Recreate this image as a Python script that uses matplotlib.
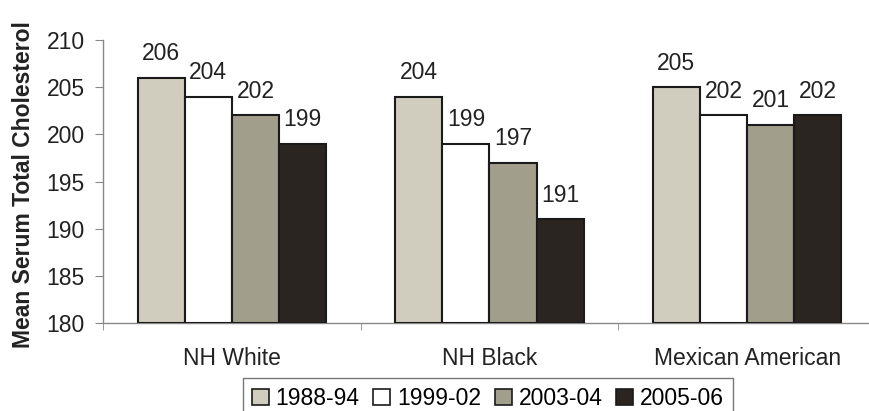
import numpy as np
import matplotlib
matplotlib.use('Agg')
import matplotlib.pyplot as plt
from matplotlib.ticker import FixedLocator

plt.rcParams['font.family'] = ['Liberation Sans', 'DejaVu Sans']

# datos del gráfico
grupos = ['NH White', 'NH Black', 'Mexican American']
periodos = ['1988-94', '1999-02', '2003-04', '2005-06']
valores = {
    '1988-94': [206, 204, 205],
    '1999-02': [204, 199, 202],
    '2003-04': [202, 197, 201],
    '2005-06': [199, 191, 202],
}
colores = ['#d0cdbf', '#ffffff', '#a19e8c', '#2b2521']

fs = 16.5

fig = plt.figure(figsize=(8.7, 4.11), dpi=100)
# el eje se extiende un poco más allá del borde derecho, como en el original
ax = fig.add_axes([103 / 870, 1 - 323 / 411, 773 / 870, 283 / 411])

x = np.arange(len(grupos))
ancho = 0.183
for i, periodo in enumerate(periodos):
    pos = x + (i - 1.5) * ancho
    ax.bar(pos, [v - 180 for v in valores[periodo]], bottom=180,
           width=ancho, color=colores[i], edgecolor='#1a1a1a',
           linewidth=1.5, label=periodo, zorder=3)
    # etiquetas con el valor sobre cada barra
    for xb, v in zip(pos, valores[periodo]):
        ax.annotate(str(v), (xb, v), xytext=(0, 9), textcoords='offset points',
                    ha='center', va='bottom', fontsize=fs, color='#222222')

ax.set_xlim(-0.5, 2.5)
ax.set_ylim(180, 210)
ax.set_yticks(range(180, 211, 5))
ax.set_xticks(x)
ax.set_xticklabels(grupos)
ax.xaxis.set_minor_locator(FixedLocator([-0.5, 0.5, 1.5, 2.5]))
ax.tick_params(axis='x', which='major', length=0, pad=17, labelsize=fs, colors='#222222')
ax.tick_params(axis='x', which='minor', length=5, color='#888888')
ax.tick_params(axis='y', length=6, color='#888888', labelsize=fs, labelcolor='#222222', pad=7)

for lado in ['top', 'right']:
    ax.spines[lado].set_visible(False)
for lado in ['left', 'bottom']:
    ax.spines[lado].set_color('#888888')
    ax.spines[lado].set_linewidth(1.0)

ax.set_ylabel('Mean Serum Total Cholesterol', fontsize=16.5, fontweight='bold',
              color='#222222')
ax.yaxis.set_label_coords(-0.088, 0.49)

leg = fig.legend(loc='upper center', bbox_to_anchor=(488 / 870, 1 - 378 / 411),
                 ncol=4, fontsize=fs, frameon=True, fancybox=False,
                 handlelength=0.74, handleheight=0.74, handletextpad=0.3,
                 columnspacing=0.6, borderpad=0.4, borderaxespad=0)
leg.get_frame().set_edgecolor('#555555')
leg.get_frame().set_linewidth(1.0)
for h in leg.legend_handles:
    h.set_linewidth(1.2)

fig.savefig('out.png', dpi=100)
